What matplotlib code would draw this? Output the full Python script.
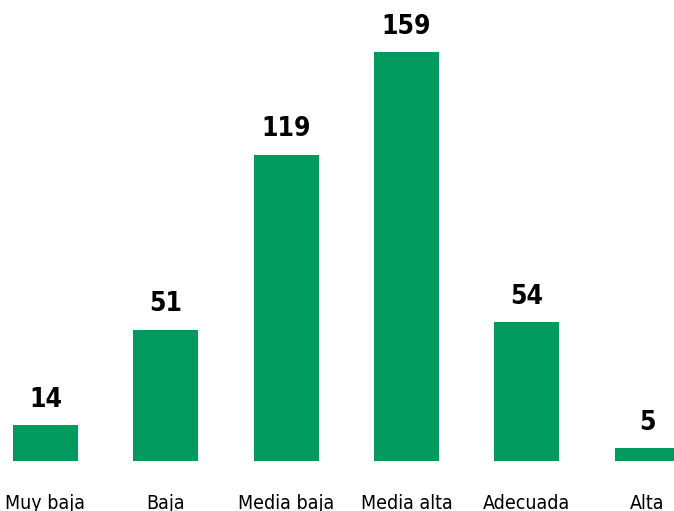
import matplotlib
matplotlib.use("Agg")
from matplotlib import pyplot as plt

categorias = ["Muy baja", "Baja", "Media baja", "Media alta", "Adecuada", "Alta"]
valores = [14, 51, 119, 159, 54, 5]

fig = plt.figure(figsize=(6.74, 5.11), dpi=100)
ax = fig.add_axes([0, 0.0978, 1, 0.8004])

x = list(range(len(categorias)))
ax.bar(x, valores, width=0.54, color="#009A5E")

for i, v in zip(x, valores):
    ax.annotate(str(v), (i, v), xytext=(0, 9), textcoords="offset points",
                ha="center", va="bottom", fontsize=19, fontweight="bold",
                stretch="condensed", annotation_clip=False)

ax.set_xlim(-0.378, 5.224)
ax.set_ylim(0, 159)
ax.set_xticks(x)
ax.set_xticklabels(categorias, fontsize=14, stretch="condensed")
ax.tick_params(axis="x", length=0, pad=24)
ax.set_yticks([])
for s in ax.spines.values():
    s.set_visible(False)

fig.savefig("out.png", dpi=100)
